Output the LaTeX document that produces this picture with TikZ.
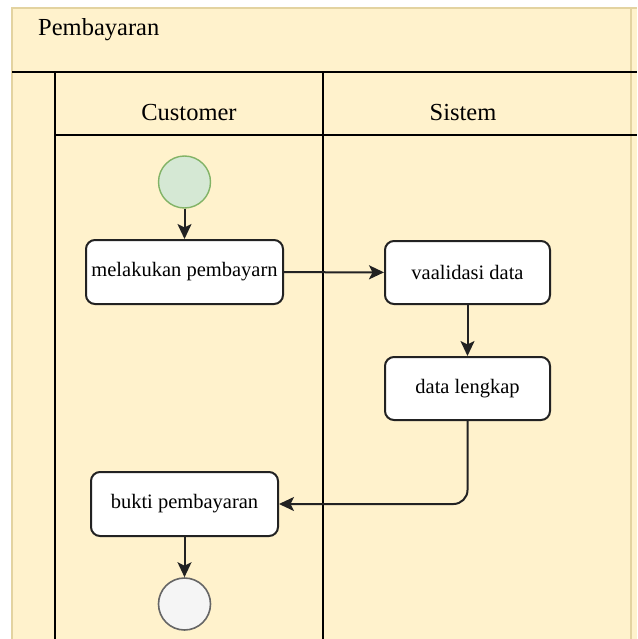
\documentclass[tikz,border=0pt]{standalone}
\usepackage{fontspec}
\setmainfont{Liberation Serif}
\usetikzlibrary{arrows.meta}
\definecolor{poolfill}{HTML}{FFF2CC}
\definecolor{pooledge}{HTML}{E3D3A0}
\definecolor{startfill}{HTML}{D5E8D4}
\definecolor{startedge}{HTML}{82B366}
\definecolor{endfill}{HTML}{F5F5F5}
\definecolor{endedge}{HTML}{666666}
\definecolor{boxedge}{HTML}{222222}
\tikzset{
  lane/.style={line width=1.8pt, black},
  actbox/.style={draw=boxedge, line width=2pt, fill=white, rounded corners=9pt,
    inner sep=0pt, align=center, font=\fontsize{20.5}{24}\selectfont},
  startnode/.style={circle, draw=startedge, fill=startfill, line width=1.4pt, minimum size=52pt, inner sep=0pt},
  endnode/.style={circle, draw=endedge, fill=endfill, line width=1.6pt, minimum size=52pt, inner sep=0pt},
  flow/.style={line width=2pt, draw=boxedge, -{Stealth[length=15pt,width=14pt,inset=3.5pt]}},
  hdr/.style={inner sep=0pt, font=\fontsize{24.5}{28}\selectfont}
}
\begin{document}
\begin{tikzpicture}[x=1pt,y=-1pt]
  \useasboundingbox (0,0) rectangle (637,639);
  % pool background
  \fill[white] (0,0) rectangle (637,639);
  \fill[poolfill] (12,8) rectangle (637,639);
  \draw[pooledge, line width=1.2pt] (12,639) -- (12,8) -- (637,8);
  \draw[pooledge, line width=1.2pt] (631,8) -- (631,639);
  % swimlane rules
  \draw[lane] (12,72) -- (637,72);
  \draw[lane] (55,72) -- (55,639);
  \draw[lane] (323,72) -- (323,639);
  \draw[lane] (55,135) -- (637,135);
  % titles
  \node[hdr, anchor=west] (pool) at (38,30) {Pembayaran};
  \node[hdr] (laneC) at (189,113) {Customer};
  \node[hdr] (laneS) at (463,113) {Sistem};
  % activities
  \node[startnode] (start) at (184.5,182) {};
  \node[actbox, minimum width=197pt, minimum height=64pt] (bayar) at (184.5,272) {melakukan pembayarn};
  \node[actbox, minimum width=165pt, minimum height=63pt] (valid) at (467.5,272.5) {vaalidasi data};
  \node[actbox, minimum width=165pt, minimum height=63pt] (lengkap) at (467.5,388.5) {data lengkap};
  \node[actbox, minimum width=187pt, minimum height=64pt] (bukti) at (184.5,504) {bukti pembayaran};
  \node[endnode] (end) at (184.5,604) {};
  % flows
  \draw[flow] (start) -- (bayar);
  \draw[flow] (bayar) -- (valid);
  \draw[flow] (valid) -- (lengkap);
  \draw[flow, rounded corners=14pt] (lengkap.south) |- (bukti.east);
  \draw[flow] (bukti) -- (end);
\end{tikzpicture}
\end{document}
